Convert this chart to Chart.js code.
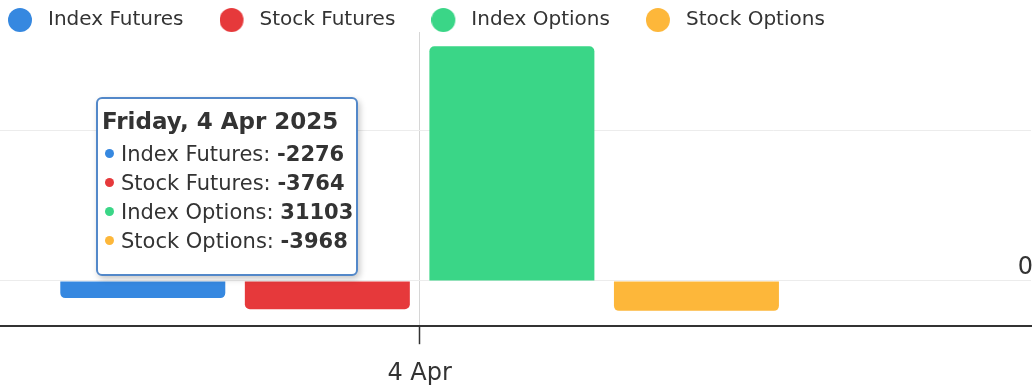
<!DOCTYPE html>
<html>
<head>
<meta charset="utf-8">
<script src="https://cdn.jsdelivr.net/npm/chart.js@4"></script>
<style>
    html, body { margin: 0; padding: 0; background: #fff; }
    #wrap { position: relative; width: 1035px; height: 390px; }
    #tip {
        position: absolute;
        box-sizing: border-box;
        width: 262px;
        background: #fff;
        border: 2px solid #5388c9;
        border-radius: 6px;
        box-shadow: 2px 3px 6px rgba(0, 0, 0, 0.22);
        padding: 4px 6px 18px 7px;
        font-family: 'DejaVu Sans', sans-serif;
        color: #333;
        white-space: nowrap;
        display: none;
    }
    #tip .t { font-size: 23px; font-weight: 700; line-height: 37px; margin-left: -3px; }
    #tip .r { font-size: 21px; line-height: 29px; }
    #tip .d { display: inline-block; width: 9px; height: 9px; border-radius: 50%; margin-right: 7px; vertical-align: 3px; }
    #tip b { font-weight: 700; }
</style>
</head>
<body>
<div id="wrap">
    <canvas id="chart"></canvas>
    <div id="tip"></div>
</div>
<script>
var categories = ["4 Apr"];
var fullDates = ["Friday, 4 Apr 2025"];
var seriesNames = ["Index Futures", "Stock Futures", "Index Options", "Stock Options"];
var indexFutures = [-2276];
var stockFutures = [-3764];
var indexOptions = [31103];
var stockOptions = [-3968];
var seriesColors = ["#3688e0", "#e6393b", "#3ad687", "#fdb73a"];
var yTicks = [0, 20000];

Chart.defaults.font.family = "'DejaVu Sans', sans-serif";
Chart.defaults.color = "#333";

function points(values) {
    return values.map(function (v, i) { return { x: i, y: v }; });
}

// legend dot, circle sits left of the image centre so the text gap is wider
function dot(color) {
    var c = document.createElement("canvas");
    c.width = 40;
    c.height = 24;
    var g = c.getContext("2d");
    g.fillStyle = color;
    g.beginPath();
    g.arc(12, 12, 12, 0, Math.PI * 2);
    g.fill();
    return c;
}
var dots = seriesColors.map(dot);

var legendHeightFix = {
    id: "legendHeightFix",
    beforeUpdate: function (chart) {
        var lg = chart.legend;
        if (lg && !lg._fixed) {
            var fit = lg.fit;
            lg.fit = function () {
                fit.call(this);
                this.height = 68;
            };
            lg._fixed = true;
        }
    }
};

function externalTip(context) {
    var el = document.getElementById("tip");
    var tip = context.tooltip;
    if (tip.opacity === 0 || !tip.dataPoints || !tip.dataPoints.length) {
        el.style.display = "none";
        return;
    }
    var idx = tip.dataPoints[0].dataIndex;
    var html = '<div class="t">' + fullDates[idx] + "</div>";
    tip.dataPoints.forEach(function (p) {
        html += '<div class="r"><span class="d" style="background:' + seriesColors[p.datasetIndex] + '"></span>' +
            p.dataset.label + ": <b>" + p.raw.y + "</b></div>";
    });
    el.innerHTML = html;
    el.style.display = "block";
    el.style.left = "96px";
    el.style.top = "97px";
}

var seriesValues = [indexFutures, stockFutures, indexOptions, stockOptions];

var chart = new Chart(document.getElementById("chart"), {
    type: "bar",
    data: {
        datasets: seriesValues.map(function (vals, i) {
            return {
                label: seriesNames[i],
                data: points(vals),
                backgroundColor: seriesColors[i],
                borderWidth: 0,
                borderRadius: 5,
                borderSkipped: "start",
                categoryPercentage: 0.716,
                barPercentage: 0.894
            };
        })
    },
    options: {
        responsive: true,
        maintainAspectRatio: false,
        animation: false,
        layout: { padding: { left: -28, top: -36, right: 0, bottom: -13 } },
        interaction: { mode: "index", intersect: false },
        scales: {
            x: {
                type: "linear",
                offset: false,
                min: -0.407,
                max: 0.593,
                afterBuildTicks: function (scale) {
                    scale.ticks = categories.map(function (c, i) { return { value: i }; });
                },
                ticks: {
                    font: { size: 24 },
                    color: "#333",
                    padding: 15,
                    callback: function (v) { return categories[v]; }
                },
                grid: {
                    offset: false,
                    color: "#d6d6d6",
                    lineWidth: 1,
                    drawOnChartArea: true,
                    tickLength: 18,
                    tickColor: "#333",
                    tickWidth: 1.5
                },
                border: { display: true, color: "#333", width: 2 }
            },
            y: {
                position: "right",
                min: -6000,
                max: 33000,
                afterBuildTicks: function (scale) {
                    scale.ticks = yTicks.map(function (v) { return { value: v }; });
                },
                ticks: {
                    mirror: true,
                    padding: 2,
                    labelOffset: -13,
                    font: { size: 24 },
                    color: "#333",
                    callback: function (v) { return v === 0 ? "0" : ""; }
                },
                grid: { color: "#ececec", lineWidth: 1, drawTicks: false },
                border: { display: false }
            }
        },
        plugins: {
            legend: {
                position: "top",
                align: "start",
                labels: {
                    usePointStyle: true,
                    padding: 46,
                    color: "#333",
                    font: { size: 20 },
                    generateLabels: function (c) {
                        var items = Chart.defaults.plugins.legend.labels.generateLabels(c);
                        items.forEach(function (it, i) { it.pointStyle = dots[i]; });
                        return items;
                    }
                }
            },
            tooltip: { enabled: false, external: externalTip }
        }
    },
    plugins: [legendHeightFix]
});

var active = seriesValues.map(function (v, i) { return { datasetIndex: i, index: 0 }; });
chart.tooltip.setActiveElements(active, { x: 420, y: 200 });
chart.update();
</script>
</body>
</html>
